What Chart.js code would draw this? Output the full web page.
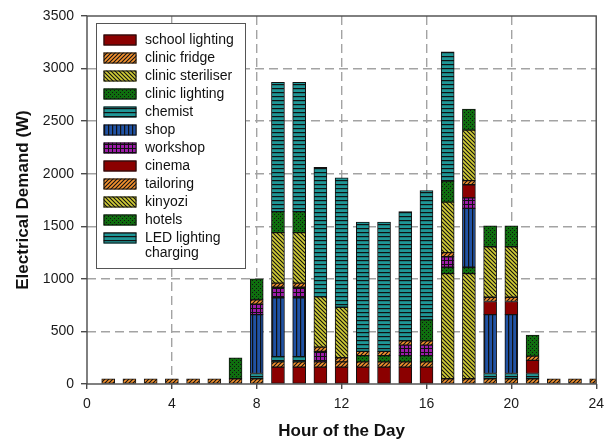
<!DOCTYPE html>
<html>
<head>
<meta charset="utf-8">
<title>Electrical Demand by Hour of the Day</title>
<script src="https://cdn.jsdelivr.net/npm/chart.js@4/dist/chart.umd.min.js"></script>
<style>
  html, body { margin: 0; padding: 0; background: #ffffff; }
  #wrap { width: 611px; height: 443px; }
</style>
</head>
<body>
<div id="wrap"><canvas id="chart" width="611" height="443"></canvas></div>
<script>
// Hour of the day for each bar
const hours = [1, 2, 3, 4, 5, 6, 7, 8, 9, 10, 11, 12, 13, 14, 15, 16, 17, 18, 19, 20, 21, 22, 23, 24];

// Demand per load, in watts, one value per hour above
const schoolLighting   = [0, 0, 0, 0, 0, 0, 0, 0, 160, 160, 160, 160, 160, 160, 160, 160, 0, 0, 0, 0, 0, 0, 0, 0];
const clinicFridge     = [50, 50, 50, 50, 50, 50, 50, 50, 50, 50, 50, 50, 50, 50, 50, 50, 50, 50, 50, 50, 50, 50, 50, 50];
const clinicSteriliser = [0, 0, 0, 0, 0, 0, 0, 0, 0, 0, 0, 0, 0, 0, 0, 0, 1000, 1000, 0, 0, 0, 0, 0, 0];
const clinicLighting   = [0, 0, 0, 0, 0, 0, 0, 0, 0, 0, 0, 0, 60, 60, 60, 60, 60, 60, 0, 0, 0, 0, 0, 0];
const chemist          = [0, 0, 0, 0, 0, 0, 0, 50, 50, 50, 0, 0, 0, 0, 0, 0, 0, 0, 50, 50, 50, 0, 0, 0];
const shop             = [0, 0, 0, 0, 0, 0, 0, 560, 560, 560, 0, 0, 0, 0, 0, 0, 0, 560, 560, 560, 0, 0, 0, 0];
const workshop         = [0, 0, 0, 0, 0, 0, 0, 100, 100, 100, 100, 0, 0, 0, 100, 100, 100, 100, 0, 0, 0, 0, 0, 0];
const cinema           = [0, 0, 0, 0, 0, 0, 0, 0, 0, 0, 0, 0, 0, 0, 0, 0, 0, 125, 125, 125, 125, 0, 0, 0];
const tailoring        = [0, 0, 0, 0, 0, 0, 0, 40, 40, 40, 40, 40, 40, 40, 40, 40, 40, 40, 40, 40, 40, 0, 0, 0];
const kinyozi          = [0, 0, 0, 0, 0, 0, 0, 0, 480, 480, 480, 480, 0, 0, 0, 0, 480, 480, 480, 480, 0, 0, 0, 0];
const hotels           = [0, 0, 0, 0, 0, 0, 200, 200, 200, 200, 0, 0, 0, 0, 0, 200, 200, 200, 200, 200, 200, 0, 0, 0];
const ledCharging      = [0, 0, 0, 0, 0, 0, 0, 0, 1230, 1230, 1230, 1230, 1230, 1230, 1230, 1230, 1230, 0, 0, 0, 0, 0, 0, 0];

// Axis ticks
const xTicks = [0, 4, 8, 12, 16, 20, 24];
const yTicks = [0, 500, 1000, 1500, 2000, 2500, 3000, 3500];

const FONT = "Arial, 'Liberation Sans', Helvetica, sans-serif";
const INK = '#111111';

// Small tiled fills used for the hatched / dotted bar segments
function makePattern(base, size, draw) {
  const c = document.createElement('canvas');
  c.width = size; c.height = size;
  const g = c.getContext('2d');
  g.fillStyle = base;
  g.fillRect(0, 0, size, size);
  g.fillStyle = INK;
  g.strokeStyle = INK;
  draw(g, size);
  return g.createPattern(c, 'repeat');
}

const solidRed = '#8b0000';
const orangeHatch = makePattern('#f4922e', 4, (g, s) => {
  g.lineWidth = 1.1;
  g.beginPath();
  g.moveTo(0, s); g.lineTo(s, 0);
  g.moveTo(-1, 1); g.lineTo(1, -1);
  g.moveTo(s - 1, s + 1); g.lineTo(s + 1, s - 1);
  g.stroke();
});
const yellowHatch = makePattern('#d2cd36', 4, (g, s) => {
  g.lineWidth = 1.1;
  g.beginPath();
  g.moveTo(0, 0); g.lineTo(s, s);
  g.moveTo(-1, s - 1); g.lineTo(1, s + 1);
  g.moveTo(s - 1, -1); g.lineTo(s + 1, 1);
  g.stroke();
});
const greenDots = makePattern('#0f6e0f', 4, (g) => {
  g.fillRect(0, 0, 1, 1);
  g.fillRect(2, 2, 1, 1);
});
const tealLines = makePattern('#1f9696', 4, (g, s) => {
  g.fillRect(0, 0, s, 1.2);
});
const blueLines = makePattern('#2052a4', 4, (g, s) => {
  g.fillRect(0, 0, 1.2, s);
});
const purpleGrid = makePattern('#9c1aa8', 4, (g, s) => {
  g.fillRect(0, 0, s, 1);
  g.fillRect(0, 0, 1, s);
});

const seriesDefs = [
  { label: ['school lighting'],          data: schoolLighting,   fill: solidRed },
  { label: ['clinic fridge'],            data: clinicFridge,     fill: orangeHatch },
  { label: ['clinic steriliser'],        data: clinicSteriliser, fill: yellowHatch },
  { label: ['clinic lighting'],          data: clinicLighting,   fill: greenDots },
  { label: ['chemist'],                  data: chemist,          fill: tealLines },
  { label: ['shop'],                     data: shop,             fill: blueLines },
  { label: ['workshop'],                 data: workshop,         fill: purpleGrid },
  { label: ['cinema'],                   data: cinema,           fill: solidRed },
  { label: ['tailoring'],                data: tailoring,        fill: orangeHatch },
  { label: ['kinyozi'],                  data: kinyozi,          fill: yellowHatch },
  { label: ['hotels'],                   data: hotels,           fill: greenDots },
  { label: ['LED lighting', 'charging'], data: ledCharging,      fill: tealLines }
];

const datasets = seriesDefs.map(d => ({
  label: d.label.join(' '),
  lines: d.label,
  data: d.data,
  backgroundColor: d.fill,
  borderColor: INK,
  borderWidth: 1,
  borderSkipped: false,
  barThickness: 13,
  clip: 0
}));

// Solid frame around the plot area, drawn over the bars
const framePlugin = {
  id: 'frame',
  afterDatasetsDraw(chart) {
    const a = chart.chartArea;
    const ctx = chart.ctx;
    ctx.save();
    ctx.strokeStyle = '#4a4a4a';
    ctx.lineWidth = 1.4;
    ctx.strokeRect(a.left, a.top, a.right - a.left, a.bottom - a.top);
    ctx.restore();
  }
};

// Boxed legend in the upper-left corner of the plot area
const boxLegendPlugin = {
  id: 'boxLegend',
  afterDraw(chart) {
    const a = chart.chartArea;
    const ctx = chart.ctx;
    const boxX = a.left + 9, boxY = a.top + 7, boxW = 149, boxH = 245;
    const swX = a.left + 16.5, swW = 33, swH = 11;
    const firstTop = a.top + 18.5, pitch = 18;
    const textX = a.left + 58;
    ctx.save();
    ctx.fillStyle = '#ffffff';
    ctx.fillRect(boxX, boxY, boxW, boxH);
    ctx.strokeStyle = '#555555';
    ctx.lineWidth = 1;
    ctx.strokeRect(boxX + 0.5, boxY + 0.5, boxW, boxH);
    ctx.font = '14px ' + FONT;
    ctx.textBaseline = 'middle';
    ctx.textAlign = 'left';
    chart.data.datasets.forEach((ds, i) => {
      const top = firstTop + i * pitch;
      ctx.fillStyle = ds.backgroundColor;
      ctx.fillRect(swX, top, swW, swH);
      ctx.strokeStyle = INK;
      ctx.lineWidth = 1;
      ctx.strokeRect(swX + 0.5, top + 0.5, swW - 1, swH - 1);
      ctx.fillStyle = '#111111';
      ds.lines.forEach((line, k) => {
        ctx.fillText(line, textX, top + swH / 2 + k * 15);
      });
    });
    ctx.restore();
  }
};

const edgeY = v => v === yTicks[0] || v === yTicks[yTicks.length - 1];
const edgeX = v => v === xTicks[0] || v === xTicks[xTicks.length - 1];

new Chart(document.getElementById('chart'), {
  type: 'bar',
  data: { labels: hours, datasets },
  options: {
    responsive: false,
    animation: false,
    devicePixelRatio: 1,
    layout: { padding: { top: 16, right: 14, bottom: 0, left: 0 } },
    plugins: {
      legend: { display: false },
      tooltip: { enabled: false }
    },
    scales: {
      x: {
        type: 'linear',
        stacked: true,
        min: 0,
        max: 24,
        offset: false,
        afterFit(scale) { scale.height = 59; },
        afterBuildTicks(scale) { scale.ticks = xTicks.map(v => ({ value: v })); },
        ticks: {
          font: { size: 14, family: FONT },
          color: '#1a1a1a',
          padding: 7,
          maxRotation: 0,
          autoSkip: false,
          callback: v => String(v)
        },
        grid: {
          offset: false,
          color: c => (c.tick && edgeX(c.tick.value)) ? 'rgba(0,0,0,0)' : '#a3a3a3',
          lineWidth: 1.4,
          tickColor: '#4a4a4a',
          tickWidth: 1.4,
          tickLength: 5,
          tickBorderDash: []
        },
        border: { display: false, dash: [9, 5] },
        title: {
          display: true,
          text: 'Hour of the Day',
          font: { size: 17, weight: 'bold', family: FONT },
          color: '#111111',
          padding: { top: 0, bottom: 1 }
        }
      },
      y: {
        stacked: true,
        min: 0,
        max: 3500,
        afterFit(scale) { scale.width = 87; },
        afterBuildTicks(scale) { scale.ticks = yTicks.map(v => ({ value: v })); },
        ticks: {
          font: { size: 14, family: FONT },
          color: '#1a1a1a',
          padding: 7,
          callback: v => String(v)
        },
        grid: {
          color: c => (c.tick && edgeY(c.tick.value)) ? 'rgba(0,0,0,0)' : '#a3a3a3',
          lineWidth: 1.4,
          tickColor: '#4a4a4a',
          tickWidth: 1.4,
          tickLength: 6,
          tickBorderDash: []
        },
        border: { display: false, dash: [9, 5] },
        title: {
          display: true,
          text: 'Electrical Demand (W)',
          font: { size: 17, weight: 'bold', family: FONT },
          color: '#111111',
          padding: { top: 13, bottom: 0 }
        }
      }
    }
  },
  plugins: [framePlugin, boxLegendPlugin]
});
</script>
</body>
</html>
